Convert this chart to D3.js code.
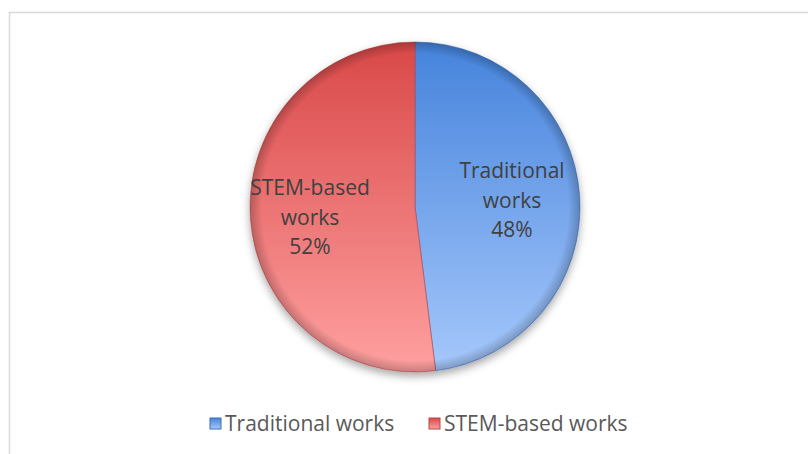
<!DOCTYPE html>
<html>
<head>
<meta charset="utf-8">
<script src="https://cdn.jsdelivr.net/npm/d3@7"></script>
<style>
  body { margin: 0; background: #fff; }
  svg text { font-family: "Open Sans", sans-serif; }
</style>
</head>
<body>
<div id="chart"></div>
<script>
// data
const categories = ["Traditional works", "STEM-based works"];
const shares = [48, 52];
const labelLines = [["Traditional", "works", "48%"], ["STEM-based", "works", "52%"]];

const width = 808, height = 454;
const cx = 415, cy = 207, radius = 165;

const svg = d3.select("#chart").append("svg")
    .attr("width", width)
    .attr("height", height);

// chart frame (runs off the right and bottom)
svg.append("rect")
    .attr("x", 9.5).attr("y", 12.5)
    .attr("width", width).attr("height", height)
    .attr("fill", "none")
    .attr("stroke", "#d9d9d9")
    .attr("stroke-width", 1.5);

const defs = svg.append("defs");

const colors = [
    {top: "#4583dc", bottom: "#a6c8fb", edge: "#3a6fb8"},
    {top: "#d94848", bottom: "#ffa0a0", edge: "#b54848"}
];

colors.forEach(function(c, i) {
    // gradient in the pie group's own coordinates (centre at 0,0)
    const g = defs.append("linearGradient")
        .attr("id", "grad" + i)
        .attr("gradientUnits", "userSpaceOnUse")
        .attr("x1", 0).attr("y1", -radius)
        .attr("x2", 0).attr("y2", radius);
    g.append("stop").attr("offset", "0%").attr("stop-color", c.top);
    g.append("stop").attr("offset", "100%").attr("stop-color", c.bottom);

    const lg = defs.append("linearGradient")
        .attr("id", "lg" + i)
        .attr("x1", 0).attr("y1", 0).attr("x2", 0).attr("y2", 1);
    lg.append("stop").attr("offset", "0%").attr("stop-color", c.top);
    lg.append("stop").attr("offset", "100%").attr("stop-color", c.bottom);
});

// bevel darkening near rim
const rim = defs.append("radialGradient")
    .attr("id", "rim")
    .attr("gradientUnits", "userSpaceOnUse")
    .attr("cx", 0).attr("cy", 0).attr("r", radius);
rim.append("stop").attr("offset", "0.93").attr("stop-color", "#000").attr("stop-opacity", 0);
rim.append("stop").attr("offset", "1").attr("stop-color", "#000").attr("stop-opacity", 0.22);

const shadow = defs.append("filter")
    .attr("id", "shadow")
    .attr("x", "-20%").attr("y", "-20%")
    .attr("width", "140%").attr("height", "140%");
shadow.append("feDropShadow")
    .attr("dx", 0).attr("dy", 4)
    .attr("stdDeviation", 4)
    .attr("flood-color", "#000")
    .attr("flood-opacity", 0.35);

const pie = d3.pie().sort(null).value(function(d) { return d; });
const arcs = pie(shares);
const arc = d3.arc().innerRadius(0).outerRadius(radius);

const pieG = svg.append("g").attr("transform", `translate(${cx},${cy})`);

pieG.append("g").attr("filter", "url(#shadow)")
  .selectAll("path")
  .data(arcs)
  .enter()
  .append("path")
    .attr("d", arc)
    .attr("fill", function(d, i) { return "url(#grad" + i + ")"; })
    .attr("stroke", function(d, i) { return colors[i].edge; })
    .attr("stroke-opacity", 0.6)
    .attr("stroke-width", 1);

pieG.append("circle")
    .attr("r", radius)
    .attr("fill", "url(#rim)");

// data labels
const labelPos = [[512, 178], [310, 195]];
labelLines.forEach(function(lines, i) {
    const t = svg.append("text")
        .attr("x", labelPos[i][0])
        .attr("y", labelPos[i][1])
        .attr("text-anchor", "middle")
        .attr("font-size", 21)
        .attr("fill", "#404040");
    lines.forEach(function(s, k) {
        t.append("tspan")
            .attr("x", labelPos[i][0])
            .attr("dy", k === 0 ? 0 : 29.5)
            .text(s);
    });
});

// legend
const legendX = [210, 429];
const legend = svg.selectAll("g.legend")
    .data(categories)
    .enter()
    .append("g")
    .attr("class", "legend")
    .attr("transform", function(d, i) { return `translate(${legendX[i]},418)`; });

legend.append("rect")
    .attr("width", 11).attr("height", 11)
    .attr("fill", function(d, i) { return "url(#lg" + i + ")"; })
    .attr("stroke", function(d, i) { return colors[i].edge; })
    .attr("stroke-width", 1);

legend.append("text")
    .attr("x", 15)
    .attr("y", 13)
    .attr("font-size", 21)
    .attr("fill", "#595959")
    .text(function(d) { return d; });
</script>
</body>
</html>
